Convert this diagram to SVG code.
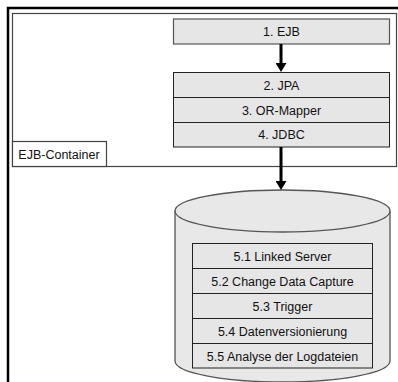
<svg xmlns="http://www.w3.org/2000/svg" width="398" height="382" viewBox="0 0 398 382">
<style>
text{font-family:"Liberation Sans",Arial,sans-serif;font-size:12.5px;fill:#111;text-anchor:middle}
.box{fill:#e6e6e6;stroke:#555;stroke-width:1.2}
.row{fill:#e6e6e6;stroke:#222;stroke-width:1}
</style>
<defs>
<marker id="ah" markerWidth="9" markerHeight="11" refX="0.5" refY="5.5" orient="auto" markerUnits="userSpaceOnUse" viewBox="0 0 9 11">
<path d="M0,0 L9,5.5 L0,11 Z" fill="#000" stroke="none"/>
</marker>
</defs>
<rect width="398" height="382" fill="#fff"/>
<g id="frame">
<path d="M8,382 L8,8 L398,8" fill="none" stroke="#000" stroke-width="2.5"/>
</g>
<g id="ejb-container">
<rect x="12.5" y="13.5" width="384" height="153" fill="none" stroke="#444" stroke-width="1.2"/>
<rect x="12.5" y="141.5" width="94" height="25" fill="#fff" stroke="#444" stroke-width="1.2"/>
<text x="59" y="158.5">EJB-Container</text>
</g>
<g id="ejb">
<rect class="box" x="173.5" y="19" width="216" height="25" stroke-width="2" stroke="#777"/>
<text x="281.5" y="36">1. EJB</text>
</g>
<g id="stack">
<rect class="row" x="173.5" y="72.5" width="216" height="25"/>
<text x="281.5" y="89.5">2. JPA</text>
<rect class="row" x="173.5" y="97.5" width="216" height="25"/>
<text x="281.5" y="114.5">3. OR-Mapper</text>
<rect class="row" x="173.5" y="122.5" width="216" height="24.5"/>
<text x="281.5" y="139">4. JDBC</text>
</g>
<g id="database">
<path d="M175,211 A107.5,21 0 0 1 390,211 L390,361 A107.5,21 0 0 1 175,361 Z" fill="#e8e8e8" stroke="#555" stroke-width="1.3"/>
<path d="M175,211 A107.5,21 0 0 0 390,211" fill="none" stroke="#555" stroke-width="1.3"/>
<rect class="row" x="192.5" y="243.5" width="180" height="25"/>
<text x="282.5" y="260.5">5.1 Linked Server</text>
<rect class="row" x="192.5" y="268.5" width="180" height="25"/>
<text x="282.5" y="285.5">5.2 Change Data Capture</text>
<rect class="row" x="192.5" y="293.5" width="180" height="25"/>
<text x="282.5" y="310.5">5.3 Trigger</text>
<rect class="row" x="192.5" y="318.5" width="180" height="25"/>
<text x="282.5" y="335.5">5.4 Datenversionierung</text>
<rect class="row" x="192.5" y="343.5" width="180" height="24.5"/>
<text x="282.5" y="360.5">5.5 Analyse der Logdateien</text>
</g>
<g id="connectors" stroke="#000" stroke-width="3">
<line x1="281" y1="44" x2="281" y2="63.5" marker-end="url(#ah)"/>
<line x1="281" y1="147" x2="281" y2="181.5" marker-end="url(#ah)"/>
</g>
</svg>
